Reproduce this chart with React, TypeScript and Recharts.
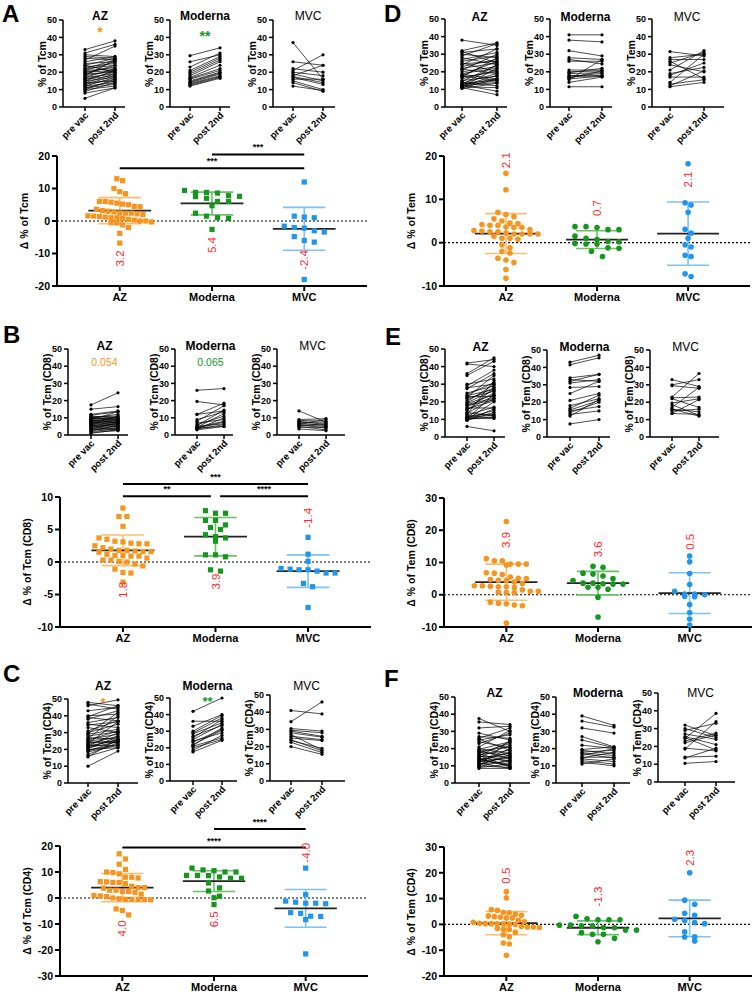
import React from "react";
import { LineChart, Line, ComposedChart, Scatter, XAxis, YAxis, ReferenceLine, ReferenceDot } from "recharts";

const GROUPS = ["AZ", "Moderna", "MVC"];
const TIMEPOINTS = ["pre vac", "post 2nd"];

// ---- A: Tcm ----
const tcmAzPre = [33, 31, 30, 29, 28, 27, 26, 25, 24, 23, 22, 22, 21, 21, 20, 20, 19, 19, 18, 18, 17, 17, 16, 16, 15, 15, 14, 14, 13, 13, 12, 12, 11, 11, 10, 10, 9, 8, 5, 24];
const tcmAzPost = [38, 36, 29, 28, 27, 35, 29, 26, 28, 25, 27, 24, 22, 26, 23, 21, 24, 20, 21, 27, 19, 22, 18, 20, 17, 21, 19, 15, 16, 18, 14, 17, 15, 13, 16, 12, 14, 11, 11, 20];
const tcmModPre = [29.5, 26, 23, 21, 20, 19, 18, 17, 16.5, 16, 15, 14.5, 14, 13.5, 13, 12.5, 12];
const tcmModPost = [34, 30, 31, 29, 28, 27, 26, 24, 22, 21, 20, 19.5, 19, 18, 17.5, 17, 16.5];
const tcmMvcPre = [37, 26, 22, 21, 20, 19, 18, 17.5, 17, 16, 15, 14, 12];
const tcmMvcPost = [16, 24, 20, 30, 18, 15, 24, 14, 13, 16, 10, 9, 9.5];
const tcmDeltaAz = [13, 12.4, 10, 9, 8.4, 6, 5.8, 6, 5.5, 5.2, 5, 4.5, 4.4, 3.6, 3.2, 3, 2.8, 2.5, 2.4, 2.4, 2.2, 2, 1.6, 1.5, 1.4, 1.2, 1, 1, 0.8, 0.5, 0.3, 0, 0, -0.3, -0.5, -0.6, -1.2, -2, -3.8, -6.8];
const tcmDeltaMod = [9.4, 8.8, 8.8, 8.6, 7.8, 7.6, 7.5, 7, 6, 6, 4.7, 2.4, 1.5, 1, 0.8, -2.6];
const tcmDeltaMvc = [12, 1.5, 1.2, 1, -1.6, -2, -2.2, -3, -3.4, -4.8, -6, -6.5, -18];
const tcmMeans = [3.2, 5.4, -2.4];
const tcmSds = [4.0, 3.5, 6.6];

// ---- B: Tcm (CD8) ----
const tcm8AzPre = [17.5, 15, 12, 11.5, 11, 10.5, 10, 10, 9.5, 9, 9, 8.5, 8, 8, 7.5, 7, 7, 6.5, 6, 6, 5.5, 5, 5, 4.5, 4, 4, 3.5, 3, 3, 2.5, 2, 1.5, 1, 6.5, 8.5, 10];
const tcm8AzPost = [24.5, 16.5, 14, 13.5, 10, 11, 9, 12, 10.5, 8, 13.5, 9.5, 7, 10, 6.5, 8.5, 5.5, 9, 7.5, 5, 6, 8, 4.5, 6.5, 5, 3.5, 7, 4, 3, 5.5, 3.5, 2.5, 3, 11, 7.5, 9];
const tcm8ModPre = [26, 19.5, 12, 12, 9, 8, 7, 6, 5.5, 5, 4.5, 4.5, 4, 4, 3.5, 3.5, 3];
const tcm8ModPost = [27, 17.5, 18.5, 14, 13.5, 17, 9, 11, 14.5, 6.5, 12.5, 8, 5, 7.5, 6, 10, 5];
const tcm8MvcPre = [14, 9, 8.5, 8, 7.5, 7, 6.5, 6, 6, 5.5, 5, 4.5, 3.5];
const tcm8MvcPost = [7.5, 9.5, 8, 6, 7, 5.5, 9, 5, 4, 6.5, 3, 4.5, 2.5];
const tcm8DeltaAz = [8.3, 7, 7, 5.5, 3.7, 3.5, 3.2, 3.1, 2.9, 2.8, 2.8, 2.5, 2.2, 2, 1.8, 1.8, 1.7, 1.6, 1.6, 1.5, 1.2, 1, 1, 0.9, 0.9, 0.6, 0.3, 0.3, 0.1, 0, -0.3, -0.6, -1.1, -1.6, -1.7, -3.1];
const tcm8DeltaMod = [7.9, 7.5, 7.5, 6.4, 6.4, 5.7, 5.3, 5, 4.2, 3.9, 3.7, 3.2, 1.1, 1.1, 0.8, -1.2, -1.4];
const tcm8DeltaMvc = [3.8, 1.2, 0.1, -1, -1.1, -1.2, -1.2, -1.4, -1.7, -1.7, -3.3, -3.8, -7];
const tcm8Means = [1.8, 3.9, -1.4];
const tcm8Sds = [2.35, 2.95, 2.5];

// ---- C: Tcm (CD4) ----
const tcm4AzPre = [48, 47, 46, 43, 40, 39.5, 39, 38, 36, 35, 34.5, 33, 30, 29.5, 29, 27, 26, 25.5, 25, 24.5, 24, 23.5, 23, 22.5, 22, 21.5, 21, 20.5, 20, 19.5, 19, 18.5, 17, 16, 15.5, 10, 31, 28, 26.5, 22];
const tcm4AzPost = [46, 44, 49.5, 45, 41, 46, 37, 43, 39, 33, 36.5, 30, 35, 42, 32, 26, 29, 31, 27, 24, 25, 36.5, 28, 22, 30, 26, 24.5, 27.5, 21, 23, 25, 22.5, 24, 21, 26, 19, 37, 30.5, 40, 25.5];
const tcm4ModPre = [42, 36, 33, 30, 29, 28.5, 27, 26, 25, 24, 23.5, 22, 21.5, 21, 20, 18.5, 17.5];
const tcm4ModPost = [50, 36, 40, 39.5, 38, 35, 33.5, 37, 34, 29, 31, 30.5, 32, 26, 25, 27.5, 24.5];
const tcm4MvcPre = [41, 34.5, 30.5, 29.5, 29, 28, 27, 26, 25, 24, 23.5, 22.5, 20];
const tcm4MvcPost = [39, 46, 29, 28, 26, 25.5, 18, 24, 23.5, 17.5, 19, 16.5, 15.5];
const tcm4DeltaAz = [17, 15, 13, 11, 10, 9.8, 9.3, 8, 8, 7.7, 6.3, 6.2, 6, 6, 5.5, 4.5, 4, 4, 3.8, 3, 3, 2.5, 2.5, 2.2, 1.5, 1, 0.8, 0.5, 0, -0.3, -0.5, -0.5, -0.5, -0.6, -0.7, -4.2, -4.8, -6.5];
const tcm4DeltaMod = [11.5, 10.8, 10.5, 10, 10, 8.7, 8.7, 8.6, 8.1, 7.6, 7.6, 5.8, 3.9, 2.7, 0.7, 0.1, -2.5];
const tcm4DeltaMvc = [11.5, 1.3, -1.2, -1.6, -2, -2, -2.2, -5.6, -5.9, -7, -7.1, -8.3, -21.5];
const tcm4Means = [4.0, 6.5, -4.0];
const tcm4Sds = [5.45, 4.0, 7.25];

// ---- D: Tem ----
const temAzPre = [38, 32, 31.5, 31, 30, 29, 28, 27, 26, 25, 24.5, 24, 23, 22, 21.5, 21, 20, 19, 18.5, 18, 17.5, 17, 16, 15, 14.5, 14, 13.5, 13, 13, 12.5, 12.5, 12, 12, 12, 11.5, 11.5, 11, 11, 10.5, 17];
const temAzPost = [35, 36.5, 25, 33, 28, 36, 24, 31, 29, 20, 26, 33, 27, 25, 19, 30, 23, 22, 16, 26, 15, 20, 21, 17.5, 24, 12, 19, 16, 15.5, 24, 9, 18, 14, 15, 22, 11, 16, 7, 13.5, 28];
const temModPre = [41, 38, 32, 28, 27, 26, 21, 20, 19.5, 19, 18, 17.5, 17, 16.5, 16, 15.5, 14, 11.5];
const temModPost = [41, 37, 29, 27, 24.5, 26, 21, 20.5, 22, 19.5, 17.5, 19, 18, 20.5, 17.5, 27, 17, 11.5];
const temMvcPre = [31.5, 28, 27, 26, 25, 24, 21, 19, 18, 17, 14, 13, 12, 11.5];
const temMvcPost = [29, 30, 27, 16, 31, 20, 32, 22.5, 25, 17, 30, 15.5, 20.5, 14];
const temDeltaAz = [16, 12.2, 7, 6.5, 6, 5.5, 5, 4.5, 4.4, 4.2, 4, 4, 3.6, 3.5, 3.5, 3, 2.8, 2.7, 2.5, 2.5, 2.2, 2, 2, 2, 2, 1.5, 1, 1, 0.8, -0.5, -1.2, -2, -2.4, -3.6, -4, -4.6, -6.2, -8.2];
const temDeltaMod = [3.7, 3.7, 3.5, 3, 3, 1.5, 1, 0.7, 0.3, 0.2, -0.2, -0.3, -0.3, -1.2, -1.3, -2, -3.2];
const temDeltaMvc = [18.2, 9.2, 8.7, 7, 3.1, 2.2, 1, -0.5, -1, -2.9, -3.2, -7.2, -7.8];
const temMeans = [2.1, 0.7, 2.1];
const temSds = [4.6, 2.05, 7.3];

// ---- E: Tem (CD8) ----
const tem8AzPre = [42, 41.5, 36, 35, 30, 29, 28, 27.5, 24, 23.5, 23, 22.5, 22, 21, 20, 19, 18.5, 18, 17, 16.5, 16, 15.5, 15, 14, 13.5, 13, 12.5, 12, 11.5, 11, 11, 10.5, 10.5, 10, 10, 9.5, 9.5, 6, 25, 19.5];
const tem8AzPost = [44, 40, 45, 43, 33, 38, 30, 36, 31, 27, 23, 35, 26, 28, 30, 24, 22, 21, 25, 16.5, 20.5, 23.5, 28, 12, 22, 32, 17, 13, 11, 15, 12.5, 24, 10.5, 20, 11.5, 16, 14, 3.5, 29, 26.5];
const tem8ModPre = [43, 41.5, 34, 33, 32, 31, 28.5, 25, 21, 18, 16.5, 15.5, 15, 14, 13, 12, 7.5];
const tem8ModPost = [47, 45.5, 36, 32, 36, 33, 29, 32, 25, 22, 24, 21, 17.5, 20, 15, 21.5, 10];
const tem8MvcPre = [33, 30, 29.5, 23, 22.5, 22, 19.5, 18.5, 17, 16, 16, 15, 13.5, 13.5];
const tem8MvcPost = [29, 33, 28, 36.5, 23, 17, 22, 12.5, 28.5, 14.5, 12, 16, 21.5, 13];
const tem8DeltaAz = [22.7, 11.2, 10.5, 10.5, 9.5, 9.5, 9.5, 9.2, 6.8, 6.7, 6.3, 5.5, 5.1, 5, 4.7, 4.5, 4.4, 3.9, 3.5, 2.8, 2.8, 2.6, 2.5, 2.5, 2.2, 1.5, 1.1, 1.1, 0.8, 0.7, 0.6, -2.3, -2.6, -2.8, -3.2, -3.4, -8.8];
const tem8DeltaMod = [8.8, 8.5, 6.7, 6.4, 5.8, 5, 4.4, 3.6, 3.6, 3.4, 3.3, 3.3, 2.3, 2.3, 1.7, -0.8, -6.9];
const tem8DeltaMvc = [12, 10.2, 6.6, 3.2, 1.1, 0.2, 0.2, 0, -0.5, -0.6, -3, -5.6, -7.5, -9.4];
const tem8Means = [3.9, 3.6, 0.5];
const tem8Sds = [5.6, 3.65, 6.3];

// ---- F: Tem (CD4) ----
const tem4AzPre = [37.5, 35.5, 32, 29, 26, 25.5, 25, 23, 20, 19.5, 19, 18.5, 18, 17.5, 17, 16.5, 16, 15.5, 15, 14.5, 14, 13.5, 13, 12.5, 12, 11.5, 11, 10.5, 10, 10, 9.5, 9, 8.5, 21, 24, 16, 13, 11, 27, 14];
const tem4AzPost = [30, 34, 33, 25, 32, 19, 28, 29, 17, 24, 14, 21, 16, 23, 12, 19, 9.5, 15, 22, 13, 10, 18, 11, 14.5, 20, 8.5, 12.5, 16.5, 9, 25, 13.5, 11, 8.5, 30.5, 20.5, 24, 17.5, 15.5, 26, 9.5];
const tem4ModPre = [39, 36, 32, 27, 25, 22, 19.5, 19, 18, 17.5, 17, 16, 15, 14.5, 14, 13, 12, 11];
const tem4ModPost = [33.5, 32.5, 29, 21, 20.5, 20, 21, 17, 19, 16, 14.5, 20, 15, 18, 12.5, 11, 10, 14];
const tem4MvcPre = [32, 30, 29, 27, 25.5, 25, 24.5, 23, 22, 19, 18.5, 14, 13.5, 10.5];
const tem4MvcPost = [26, 25, 33, 24, 21, 18, 38.5, 27.5, 26.5, 17.5, 34, 14.5, 19, 11.5];
const tem4DeltaAz = [12.7, 10.3, 5.8, 5.5, 4.7, 4.5, 4, 3.5, 3.3, 3, 2.8, 2.5, 2.5, 1.6, 1, 0.8, 0.4, 0.3, 0.3, 0.2, 0.2, 0.1, 0, -0.8, -1, -1, -1.2, -1.6, -2, -2, -3, -4, -4.8, -7.2, -7.6, -12];
const tem4DeltaMod = [3.1, 2.2, 1.8, 1.8, 1.8, -0.3, -0.3, -0.5, -0.5, -1.2, -1.3, -2.2, -2.2, -3.2, -3.8, -3.8, -5.4, -6.7];
const tem4DeltaMvc = [20, 9.4, 7.8, 4.3, 3.5, 2, 1.5, 0.7, 0.3, -2.9, -4.8, -4.9, -6.4];
const tem4Means = [0.5, -1.3, 2.3];
const tem4Sds = [4.5, 2.65, 7.1];

const FONT = "'Liberation Sans', Arial, Helvetica, sans-serif";
const COLORS = ["#F7941D", "#16961F", "#1F95EE"];
const SD_COLORS = ["#F9BE73", "#6DBF69", "#7FC1F3"];
const RED = "#FF2B2B";
const X_DOMAIN = [-0.68, 2.68];

const RotTick = (props: any) => {
  const { x, y, payload } = props;
  const ax = x + 4;
  const ay = y + 3;
  return (
    <text x={ax} y={ay} transform={`rotate(-45 ${ax} ${ay})`} textAnchor="end" fontSize={9.5} fontWeight={700} fontFamily={FONT} fill="#000">
      {TIMEPOINTS[payload.value]}
    </text>
  );
};

const RotLabel = ({ cx, cy, text, color }: any) => (
  <div
    style={{
      position: "absolute", left: cx - 70, top: cy - 7, width: 140, height: 14, lineHeight: "14px",
      textAlign: "center", transform: "rotate(-90deg)", fontFamily: FONT, fontWeight: 700,
      fontSize: 10.5, color: color || "#000", whiteSpace: "nowrap",
    }}
  >
    {text}
  </div>
);

// deterministic column-scatter layout: values close in height share a row, spread sideways
function swarm(vals: number[], center: number, pxX: number, pxY: number, step: number, bin: number) {
  const sorted = [...vals].sort((a, b) => b - a);
  const rows: number[][] = [];
  sorted.forEach((v) => {
    const last = rows[rows.length - 1];
    if (last && (last[0] - v) * pxY < bin) last.push(v);
    else rows.push([v]);
  });
  const pts: { x: number; y: number }[] = [];
  rows.forEach((r) => r.forEach((v, i) => pts.push({ x: center + ((i - (r.length - 1) / 2) * step) / pxX, y: v })));
  return pts;
}

function PairedPlot({ lay, pre, post, title, titleY, yLabel, mark, markColor, markY, markSize, markBold, mvc }: any) {
  const h = lay.bottom - lay.top;
  const unit = lay.post - lay.pre;
  const domain = [-lay.pre / unit, (lay.w - lay.pre) / unit];
  const rows = [0, 1].map((t) => {
    const r: Record<string, number> = { t };
    pre.forEach((v: number, i: number) => (r["p" + i] = t === 0 ? v : post[i]));
    return r;
  });
  const ML = 40, MT = 30, MR = 6, XH = 45;
  const midX = lay.x + (lay.pre + lay.post) / 2;
  const axisStyle = { stroke: "#000", strokeWidth: 1.5 };
  return (
    <>
      <div style={{ position: "absolute", left: lay.x - ML, top: lay.top - MT }}>
        <LineChart width={ML + lay.w + MR} height={MT + h + XH} data={rows} margin={{ top: MT, right: MR, left: 0, bottom: 0 }}>
          <XAxis type="number" dataKey="t" domain={domain} ticks={[0, 1]} interval={0} tick={<RotTick />} tickSize={4} height={XH} axisLine={axisStyle} tickLine={axisStyle} />
          <YAxis type="number" domain={[0, 50]} ticks={[0, 10, 20, 30, 40, 50]} interval={0} width={ML} tickSize={4} axisLine={axisStyle} tickLine={axisStyle} tick={{ fontSize: 9, fontWeight: 700, fill: "#000", fontFamily: FONT }} />
          {pre.map((_: number, i: number) => (
            <Line key={i} type="linear" dataKey={"p" + i} stroke="#000" strokeWidth={0.7} dot={{ r: 1.6, fill: "#000", stroke: "none" }} activeDot={false} isAnimationActive={false} />
          ))}
          {mark && (
            <ReferenceDot
              x={0.5}
              y={markY}
              r={0}
              ifOverflow="visible"
              shape={(s: any) => (
                <text x={s.cx} y={s.cy} textAnchor="middle" dominantBaseline="central" fill={markColor} fontSize={markSize} fontWeight={markBold ? 700 : 400} fontFamily={FONT}>
                  {mark}
                </text>
              )}
            />
          )}
        </LineChart>
      </div>
      <div
        style={{
          position: "absolute", left: midX - 50, top: titleY - 7, width: 100, textAlign: "center",
          fontFamily: FONT, fontWeight: mvc ? 400 : 700, fontSize: 12, lineHeight: "14px",
        }}
      >
        {title}
      </div>
      <RotLabel cx={lay.x - 21} cy={(lay.top + lay.bottom) / 2} text={yLabel} />
    </>
  );
}

function DeltaPlot({ lay, deltas, means, sds, labelYs, square, steps, bins, bars, yLabel }: any) {
  const h = lay.bottom - lay.top;
  const ML = 45, MT = 50, MR = 8, XH = 26;
  const pxX = lay.w / (X_DOMAIN[1] - X_DOMAIN[0]);
  const pxY = h / (lay.hi - lay.lo);
  const axisStyle = { stroke: "#000", strokeWidth: 2 };
  return (
    <>
      <div style={{ position: "absolute", left: lay.x - ML, top: lay.top - MT }}>
        <ComposedChart width={ML + lay.w + MR} height={MT + h + XH} margin={{ top: MT, right: MR, left: 0, bottom: 0 }}>
          <XAxis type="number" dataKey="x" domain={X_DOMAIN} ticks={[0, 1, 2]} interval={0} tickFormatter={(v: number) => GROUPS[v]} tickSize={5} height={XH} axisLine={axisStyle} tickLine={axisStyle} tick={{ fontSize: 11, fontWeight: 700, fill: "#000", fontFamily: FONT }} />
          <YAxis type="number" dataKey="y" domain={[lay.lo, lay.hi]} ticks={lay.ticks} interval={0} width={ML} tickSize={5} axisLine={axisStyle} tickLine={axisStyle} tick={{ fontSize: 10.5, fontWeight: 700, fill: "#000", fontFamily: FONT }} />
          <ReferenceLine y={0} stroke="#000" strokeWidth={1.2} strokeDasharray="2 2" />
          {means.map((m: number, i: number) => (
            <React.Fragment key={"sd" + i}>
              <ReferenceLine segment={[{ x: i, y: m - sds[i] }, { x: i, y: m + sds[i] }]} stroke={SD_COLORS[i]} strokeWidth={1.6} ifOverflow="visible" />
              <ReferenceLine segment={[{ x: i - 0.23, y: m + sds[i] }, { x: i + 0.23, y: m + sds[i] }]} stroke={SD_COLORS[i]} strokeWidth={1.6} ifOverflow="visible" />
              <ReferenceLine segment={[{ x: i - 0.23, y: m - sds[i] }, { x: i + 0.23, y: m - sds[i] }]} stroke={SD_COLORS[i]} strokeWidth={1.6} ifOverflow="visible" />
            </React.Fragment>
          ))}
          {deltas.map((vals: number[], i: number) => (
            <Scatter
              key={"s" + i}
              data={swarm(vals, i, pxX, pxY, steps[i], bins[i])}
              dataKey="y"
              isAnimationActive={false}
              shape={(p: any) =>
                square ? (
                  <rect x={p.cx - 2.6} y={p.cy - 2.6} width={5.2} height={5.2} fill={COLORS[i]} />
                ) : (
                  <circle cx={p.cx} cy={p.cy} r={2.8} fill={COLORS[i]} />
                )
              }
            />
          ))}
          {means.map((m: number, i: number) => (
            <ReferenceLine key={"m" + i} segment={[{ x: i - 0.34, y: m }, { x: i + 0.34, y: m }]} stroke="#222" strokeWidth={1.8} ifOverflow="visible" />
          ))}
          {means.map((m: number, i: number) => (
            <ReferenceDot
              key={"l" + i}
              x={i}
              y={labelYs[i]}
              r={0}
              ifOverflow="visible"
              shape={(s: any) => (
                <text x={s.cx} y={s.cy} transform={`rotate(-90 ${s.cx} ${s.cy})`} textAnchor="middle" dominantBaseline="central" fill={RED} fontSize={11.5} fontFamily={FONT}>
                  {m.toFixed(1)}
                </text>
              )}
            />
          ))}
          {bars.map((b: any, i: number) => (
            <React.Fragment key={"b" + i}>
              <ReferenceLine segment={[{ x: b.from, y: b.y }, { x: b.to, y: b.y }]} stroke="#000" strokeWidth={2} ifOverflow="visible" />
              <ReferenceDot
                x={(b.from + b.to) / 2}
                y={b.y}
                r={0}
                ifOverflow="visible"
                shape={(s: any) => (
                  <text x={s.cx} y={s.cy - 4} textAnchor="middle" fill="#000" fontSize={9} fontWeight={700} fontFamily={FONT}>
                    {b.text}
                  </text>
                )}
              />
            </React.Fragment>
          ))}
        </ComposedChart>
      </div>
      <RotLabel cx={lay.x - 33} cy={(lay.top + lay.bottom) / 2} text={yLabel} />
    </>
  );
}

const Letter = ({ x, y, text }: any) => (
  <div style={{ position: "absolute", left: x, top: y - 20, fontFamily: FONT, fontWeight: 700, fontSize: 24, lineHeight: "24px" }}>{text}</div>
);

function Panel({ cfg }: any) {
  return (
    <>
      <Letter x={cfg.letter[0]} y={cfg.letter[1]} text={cfg.letter[2]} />
      {cfg.small.map((lay: any, i: number) => (
        <PairedPlot
          key={i}
          lay={lay}
          pre={cfg.pre[i]}
          post={cfg.post[i]}
          title={GROUPS[i]}
          titleY={cfg.titleY}
          yLabel={cfg.smallLabel}
          mvc={i === 2}
          mark={cfg.marks[i]?.text}
          markY={cfg.marks[i]?.y}
          markColor={COLORS[i]}
          markSize={cfg.marks[i]?.size}
          markBold={cfg.marks[i]?.bold}
        />
      ))}
      <DeltaPlot lay={cfg.big} deltas={cfg.deltas} means={cfg.means} sds={cfg.sds} labelYs={cfg.labelYs} square={cfg.square} steps={cfg.steps} bins={cfg.bins} bars={cfg.bars} yLabel={cfg.bigLabel} />
    </>
  );
}

const PANELS = [
  {
    letter: [2, 22, "A"], titleY: 16, smallLabel: "% of Tcm", bigLabel: "Δ % of Tcm", square: true,
    small: [
      { x: 63, top: 20, bottom: 107, w: 62, pre: 22, post: 52 },
      { x: 170, top: 20, bottom: 107, w: 60, pre: 20, post: 50 },
      { x: 273, top: 20, bottom: 107, w: 62, pre: 20, post: 50 },
    ],
    pre: [tcmAzPre, tcmModPre, tcmMvcPre], post: [tcmAzPost, tcmModPost, tcmMvcPost],
    marks: [{ text: "*", y: 43, size: 14, bold: true }, { text: "**", y: 41, size: 14, bold: true }, null],
    big: { x: 57, top: 156, bottom: 286, w: 310, lo: -20, hi: 20, ticks: [-20, -10, 0, 10, 20] },
    deltas: [tcmDeltaAz, tcmDeltaMod, tcmDeltaMvc], means: tcmMeans, sds: tcmSds, labelYs: [-11.5, -7.4, -12],
    steps: [5.8, 11, 10], bins: [6.5, 6, 6],
    bars: [{ from: 0, to: 2, y: 16.2, text: "***" }, { from: 1, to: 2, y: 20.5, text: "***" }],
  },
  {
    letter: [3, 343, "B"], titleY: 346, smallLabel: "% of Tcm (CD8)", bigLabel: "Δ % of Tcm (CD8)", square: true,
    small: [
      { x: 68, top: 349, bottom: 435, w: 60, pre: 23, post: 50 },
      { x: 175, top: 349, bottom: 435, w: 58, pre: 22, post: 49 },
      { x: 277, top: 349, bottom: 435, w: 68, pre: 22, post: 49 },
    ],
    pre: [tcm8AzPre, tcm8ModPre, tcm8MvcPre], post: [tcm8AzPost, tcm8ModPost, tcm8MvcPost],
    marks: [{ text: "0.054", y: 42.5, size: 10.5, bold: false }, { text: "0.065", y: 42.5, size: 10.5, bold: false }, null],
    big: { x: 60, top: 497, bottom: 627, w: 311, lo: -10, hi: 10, ticks: [-10, -5, 0, 5, 10] },
    deltas: [tcm8DeltaAz, tcm8DeltaMod, tcm8DeltaMvc], means: tcm8Means, sds: tcm8Sds, labelYs: [-4.3, -3.0, 6.8],
    steps: [8, 10, 9], bins: [6, 6, 5],
    bars: [{ from: 0, to: 2, y: 12, text: "***" }, { from: 0, to: 0.95, y: 10.1, text: "**" }, { from: 1.05, to: 2, y: 10.1, text: "****" }],
  },
  {
    letter: [3, 682, "C"], titleY: 686, smallLabel: "% of Tcm (CD4)", bigLabel: "Δ % of Tcm (CD4)", square: true,
    small: [
      { x: 68, top: 699, bottom: 783, w: 70, pre: 20, post: 50 },
      { x: 170, top: 698, bottom: 781, w: 67, pre: 23, post: 52 },
      { x: 270, top: 695, bottom: 781, w: 75, pre: 21, post: 52 },
    ],
    pre: [tcm4AzPre, tcm4ModPre, tcm4MvcPre], post: [tcm4AzPost, tcm4ModPost, tcm4MvcPost],
    marks: [{ text: "*", y: 48, size: 13, bold: true }, { text: "**", y: 48, size: 13, bold: true }, null],
    big: { x: 60, top: 846, bottom: 976, w: 308, lo: -30, hi: 20, ticks: [-30, -20, -10, 0, 10, 20] },
    deltas: [tcm4DeltaAz, tcm4DeltaMod, tcm4DeltaMvc], means: tcm4Means, sds: tcm4Sds, labelYs: [-11.7, -8.2, 17.4],
    steps: [6.3, 11, 10], bins: [6.5, 6, 6],
    bars: [{ from: 0, to: 2, y: 19.4, text: "****" }, { from: 1, to: 2, y: 26.5, text: "****" }],
  },
  {
    letter: [384, 22, "D"], titleY: 17, smallLabel: "% of Tem", bigLabel: "Δ % of Tem", square: false,
    small: [
      { x: 445, top: 19, bottom: 107, w: 62, pre: 17, post: 52 },
      { x: 550, top: 19, bottom: 107, w: 62, pre: 19, post: 52 },
      { x: 652, top: 19, bottom: 107, w: 72, pre: 18, post: 52 },
    ],
    pre: [temAzPre, temModPre, temMvcPre], post: [temAzPost, temModPost, temMvcPost],
    marks: [null, null, null],
    big: { x: 444, top: 156, bottom: 286, w: 306, lo: -10, hi: 20, ticks: [-10, 0, 10, 20] },
    deltas: [temDeltaAz, temDeltaMod, temDeltaMvc], means: temMeans, sds: temSds, labelYs: [19, 8, 14.6],
    steps: [8, 11, 6], bins: [5.5, 6, 5],
    bars: [],
  },
  {
    letter: [385, 345, "E"], titleY: 347, smallLabel: "% of Tem (CD8)", bigLabel: "Δ % of Tem (CD8)", square: false,
    small: [
      { x: 445, top: 349, bottom: 437, w: 60, pre: 22, post: 49 },
      { x: 547, top: 350, bottom: 437, w: 63, pre: 23, post: 52 },
      { x: 650, top: 350, bottom: 437, w: 69, pre: 22, post: 49 },
    ],
    pre: [tem8AzPre, tem8ModPre, tem8MvcPre], post: [tem8AzPost, tem8ModPost, tem8MvcPost],
    marks: [null, null, null],
    big: { x: 444, top: 498, bottom: 627, w: 308, lo: -10, hi: 30, ticks: [-10, 0, 10, 20, 30] },
    deltas: [tem8DeltaAz, tem8DeltaMod, tem8DeltaMvc], means: tem8Means, sds: tem8Sds, labelYs: [17, 14.1, 16.4],
    steps: [8, 10, 10], bins: [6, 6, 5],
    bars: [],
  },
  {
    letter: [384, 687, "F"], titleY: 693, smallLabel: "% of Tem (CD4)", bigLabel: "Δ % of Tem (CD4)", square: false,
    small: [
      { x: 455, top: 697, bottom: 783, w: 75, pre: 24, post: 55 },
      { x: 556, top: 697, bottom: 783, w: 74, pre: 26, post: 58 },
      { x: 658, top: 693, bottom: 782, w: 77, pre: 27, post: 58 },
    ],
    pre: [tem4AzPre, tem4ModPre, tem4MvcPre], post: [tem4AzPost, tem4ModPost, tem4MvcPost],
    marks: [null, null, null],
    big: { x: 444, top: 847, bottom: 976, w: 308, lo: -20, hi: 30, ticks: [-20, -10, 0, 10, 20, 30] },
    deltas: [tem4DeltaAz, tem4DeltaMod, tem4DeltaMvc], means: tem4Means, sds: tem4Sds, labelYs: [18.9, 10.8, 25.8],
    steps: [6, 11, 10], bins: [6, 6, 5],
    bars: [],
  },
];

export default function App() {
  return (
    <div style={{ position: "absolute", left: 0, top: 0, width: 754, height: 994, background: "#fff", overflow: "hidden" }}>
      {PANELS.map((cfg, i) => (
        <Panel key={i} cfg={cfg} />
      ))}
    </div>
  );
}
